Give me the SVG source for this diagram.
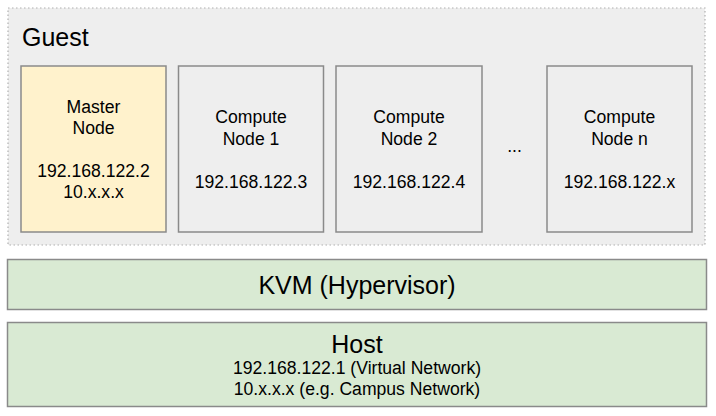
<svg xmlns="http://www.w3.org/2000/svg" width="716" height="416" viewBox="0 0 716 416">
<style>
text{font-family:"Liberation Sans",Arial,sans-serif;fill:#000}
.node{stroke:#8a8a8a;stroke-width:1.5}
.c{text-anchor:middle}
.n{font-size:17.6px}
.big{font-size:25px}
.sm{font-size:17.6px}
</style>
<rect width="716" height="416" fill="#ffffff"/>
<g id="guest">
<rect x="8" y="8" width="697" height="237" fill="#eeeeee" stroke="#b0b0b0" stroke-width="1.2" stroke-dasharray="1.5,2.5"/>
<text x="22" y="46" class="big">Guest</text>
</g>
<g id="master">
<rect x="21" y="66" width="145" height="166" fill="#fff2cc" class="node"/>
<text x="93.5" y="113" class="c n">Master</text>
<text x="93.5" y="134" class="c n">Node</text>
<text x="93.5" y="177" class="c n">192.168.122.2</text>
<text x="93.5" y="198" class="c n">10.x.x.x</text>
</g>
<g id="compute1">
<rect x="178.5" y="66" width="145" height="166" fill="#eeeeee" class="node"/>
<text x="251" y="123" class="c n">Compute</text>
<text x="251" y="145" class="c n">Node 1</text>
<text x="251" y="188" class="c n">192.168.122.3</text>
</g>
<g id="compute2">
<rect x="336" y="66" width="146" height="166" fill="#eeeeee" class="node"/>
<text x="409" y="123" class="c n">Compute</text>
<text x="409" y="145" class="c n">Node 2</text>
<text x="409" y="188" class="c n">192.168.122.4</text>
</g>
<g id="ellipsis">
<text x="514.5" y="152" class="c n">...</text>
</g>
<g id="computen">
<rect x="547" y="66" width="145" height="166" fill="#eeeeee" class="node"/>
<text x="619.5" y="123" class="c n">Compute</text>
<text x="619.5" y="145" class="c n">Node n</text>
<text x="619.5" y="188" class="c n">192.168.122.x</text>
</g>
<g id="kvm">
<rect x="7.5" y="259.5" width="699" height="50" fill="#d9ead3" class="node"/>
<text x="357" y="294" class="c big">KVM (Hypervisor)</text>
</g>
<g id="host">
<rect x="7.5" y="322.5" width="699" height="84" fill="#d9ead3" class="node"/>
<text x="357" y="353" class="c big">Host</text>
<text x="357" y="374" class="c sm">192.168.122.1 (Virtual Network)</text>
<text x="357" y="395" class="c sm">10.x.x.x (e.g. Campus Network)</text>
</g>
<g id="connectors"></g>
</svg>
